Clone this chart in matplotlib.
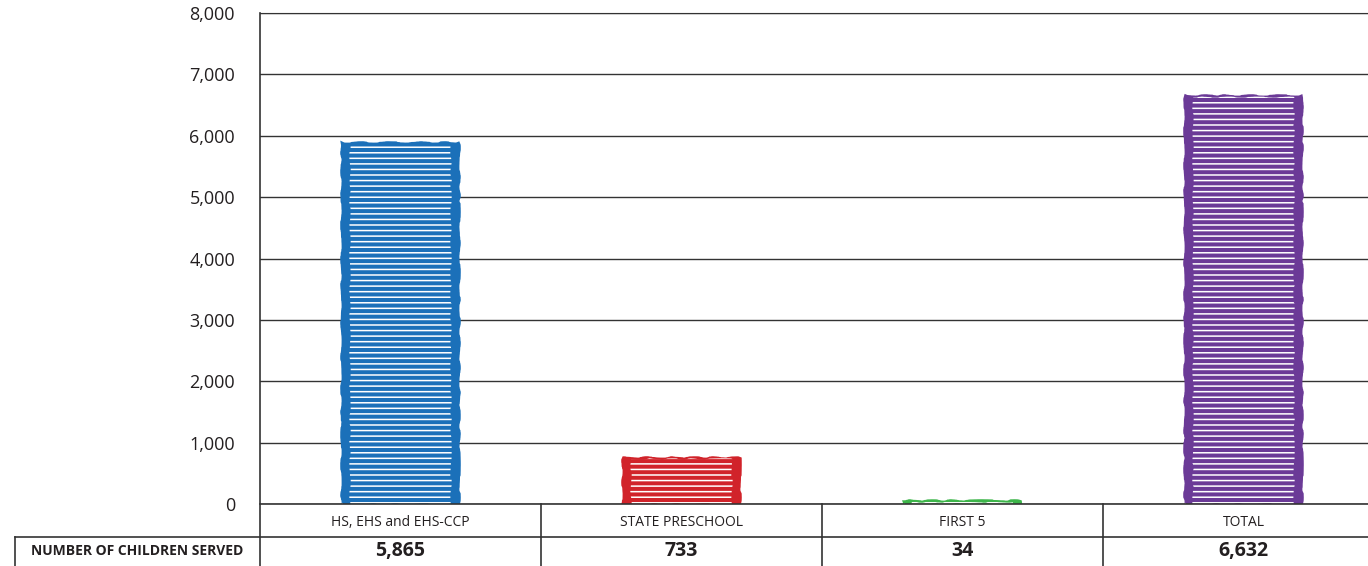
import matplotlib.pyplot as plt
import matplotlib as mpl

plt.rcParams['font.family'] = ['Open Sans', 'DejaVu Sans']
mpl.rcParams['hatch.linewidth'] = 1.1

programs = ['HS, EHS and EHS-CCP', 'STATE PRESCHOOL', 'FIRST 5', 'TOTAL']
children = [5865, 733, 34, 6632]
colors = ['#1b70b9', '#d1232a', '#3db54a', '#6b3a97']
yticks = [0, 1000, 2000, 3000, 4000, 5000, 6000, 7000, 8000]

ink = '#231f20'

fig = plt.figure(figsize=(13.68, 5.66), dpi=100)
ax = fig.add_axes([260 / 1368, 1 - 504 / 566, 1 - 260 / 1368, (504 - 13) / 566])

x = range(len(programs))
bars = ax.bar(x, children, width=0.41, color=colors, edgecolor=colors,
              linewidth=3, zorder=3)
# white crayon streaks on top of each bar
streaks = ax.bar(x, children, width=0.36, fill=False, edgecolor='white',
                 linewidth=0, hatch='---', zorder=4)
for b in list(bars) + list(streaks):
    b.set_sketch_params(scale=0.7, length=60, randomness=10)

ax.set_xlim(-0.5, 3.443)
ax.set_ylim(0, 8000)
ax.set_yticks(yticks)
ax.set_yticklabels([f'{v:,}' for v in yticks], fontsize=13, color=ink)
ax.tick_params(axis='y', length=0, pad=18)
ax.set_xticks([])
ax.yaxis.grid(True, color='#333333', linewidth=1.0, zorder=0)
for s in ['right', 'bottom']:
    ax.spines[s].set_visible(False)
ax.spines['top'].set_color('#333333')
ax.spines['left'].set_visible(False)

# table under the plot, drawn in figure pixel coordinates
W, H = 1368, 566
def fx(px):
    return px / W
def fy(py):
    return 1 - py / H

line_kw = dict(color='#333333', linewidth=1.2, transform=fig.transFigure)
fig.add_artist(plt.Line2D([fx(260), fx(260)], [fy(13), fy(566)], **line_kw))
fig.add_artist(plt.Line2D([fx(260), fx(1368)], [fy(504), fy(504)], **line_kw))
fig.add_artist(plt.Line2D([fx(15), fx(1368)], [fy(537), fy(537)], **line_kw))
fig.add_artist(plt.Line2D([fx(15), fx(15)], [fy(537), fy(566)], **line_kw))
for px in [541, 822, 1103]:
    fig.add_artist(plt.Line2D([fx(px), fx(px)], [fy(504), fy(566)], **line_kw))

trans = ax.get_xaxis_transform()
for i, (name, n) in enumerate(zip(programs, children)):
    ax.text(i, (504 - 522) / (504 - 13), name, transform=trans, ha='center',
            va='center', fontsize=10, color=ink, clip_on=False)
    ax.text(i, (504 - 551) / (504 - 13), f'{n:,}', transform=trans, ha='center',
            va='center', fontsize=14, fontweight='bold', color=ink, clip_on=False)

fig.text(fx(137), fy(551), 'NUMBER OF CHILDREN SERVED', ha='center', va='center',
         fontsize=10, fontweight='bold', color=ink)

fig.savefig('out.png', dpi=100)
